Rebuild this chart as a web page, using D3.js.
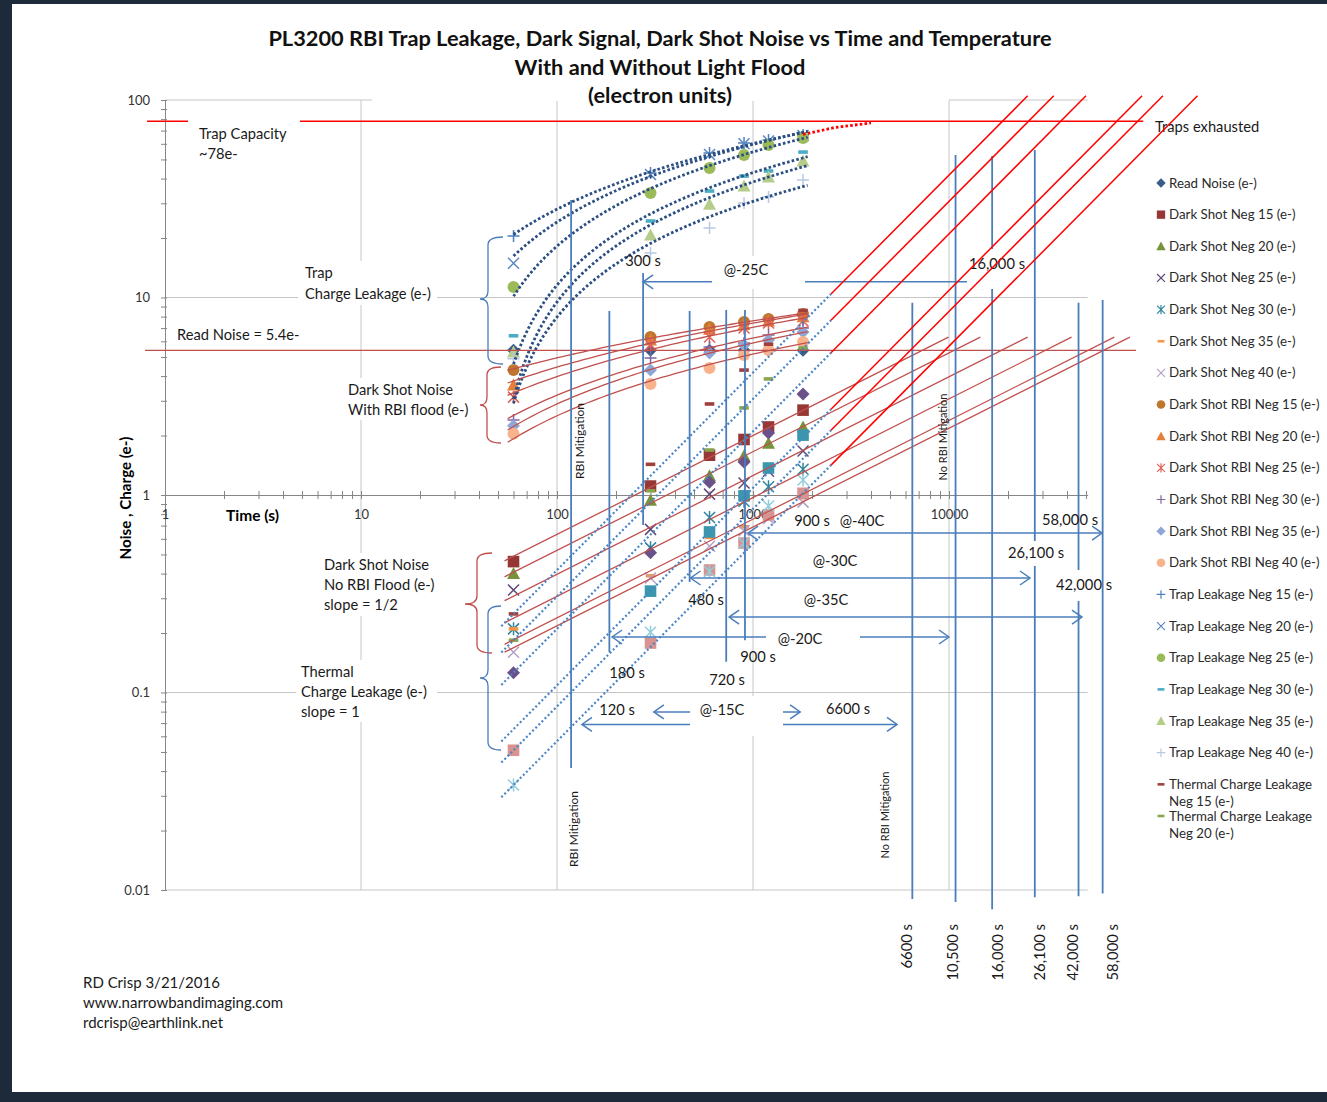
<!DOCTYPE html>
<html>
<head>
<meta charset="utf-8">
<script src="https://cdn.jsdelivr.net/npm/d3@7"></script>
<style>
  body { margin: 0; background: #1d2a3a; }
  svg text { font-family: Lato, "Open Sans", sans-serif; }
</style>
</head>
<body>
<svg id="chart"></svg>
<script>
// ---------- data ----------
const times = [60, 300, 600, 900, 1200, 1800];

const readNoise     = [5.4, 5.4, 5.4, 5.4, 5.4, 5.4];
const darkShotNeg15 = [0.46, 1.11, 1.59, 1.91, 2.21, 2.69];
const darkShotNeg20 = [0.40, 0.94, 1.25, 1.58, 1.83, 2.21];
const darkShotNeg25 = [0.33, 0.67, 1.01, 1.15, 1.32, 1.67];
const darkShotNeg30 = [0.21, 0.54, 0.77, 0.93, 1.10, 1.35];
const darkShotNeg35 = [0.21, 0.39, 0.61, 0.69, 0.80, 0.97];
const darkShotNeg40 = [0.16, 0.38, 0.55, 0.66, 0.76, 0.92];
const rbiNeg15 = [4.29, 6.31, 7.09, 7.51, 7.78, 8.25];
const rbiNeg20 = [3.61, 6.10, 6.90, 7.30, 7.60, 8.00];
const rbiNeg25 = [3.13, 5.74, 6.31, 7.01, 7.43, 7.60];
const rbiNeg30 = [2.40, 4.94, 5.61, 5.89, 6.46, 7.01];
const rbiNeg35 = [2.24, 4.29, 5.24, 5.74, 6.09, 6.69];
const rbiNeg40 = [2.04, 3.65, 4.40, 5.11, 5.42, 5.95];
const trapNeg15 = [20.5, 42.7, 53.9, 60.6, 62.7, 66.5];
const trapNeg20 = [14.9, 42.0, 53.0, 60.0, 62.0, 66.0];
const trapNeg25 = [11.3, 33.8, 45.3, 52.7, 59.2, 64.2];
const trapNeg30 = [6.4, 24.4, 34.6, 41.2, 43.7, 54.5];
const trapNeg35 = [5.3, 20.7, 29.7, 36.7, 40.7, 49.1];
const trapNeg40 = [4.9, 16.8, 22.5, 30.1, 32.3, 39.3];
const thermalNeg15 = [0.25, 1.43, 2.89, 4.29, 5.8, 8.6];
const thermalNeg20 = [0.184, 1.05, 1.69, 2.76, 3.87, 5.55];
const thermalNeg25 = [0.126, 0.51, 1.16, 1.47, 2.06, 3.25];
const thermalNeg30 = [null, 0.326, 0.65, 0.99, 1.37, 2.01];
const thermalNeg35 = [0.051, 0.178, 0.417, 0.571, 0.792, 1.02];
const thermalNeg40 = [0.034, 0.202, 0.41, 0.57, 0.88, 1.19];

// trap capacity approach (red dotted) and reference levels
const exhaustTimes  = [1800, 2600, 4000];
const exhaustValues = [67, 72.5, 76.5];
const trapCapacity = 78;
const readNoiseLevel = 5.4;

// annotation lines (times in s, extents in e-)
const mitigationTimes = [118, 185, 275, 475, 730, 910];
const mitigationTop   = [31.2, 8.55, 13.3, 8.55, 8.65, 8.65];
const mitigationBot   = [0.0415, 0.16, 0.705, 0.363, 0.143, 0.184];
const noRbiTimes = [6500, 10800, 16600, 27400, 45800, 60800];
const noRbiTop   = [9.4, 52.7, 52, 55.8, 9.4, 9.7];
const noRbiBot   = [0.009, 0.0087, 0.008, 0.0092, 0.0093, 0.0096];
const noRbiLabels = ["6600 s", "10,500 s", "16,000 s", "26,100 s", "42,000 s", "58,000 s"];

// temperature arrows: level (e-), from / to (s)
const arrowLevels = [12, 0.642, 0.38, 0.241, 0.191, 0.0797, 0.0689];
const arrowFrom   = [275, 943, 480, 755, 191, 312, 134];
const arrowTo     = [16600, 60400, 25900, 47700, 10000, 1740, 5430];

const yTickLabels = ["0.01", "0.1", "1", "10", "100"];
const xTickLabels = ["1", "10", "100", "1000", "10000"];

// ---------- frame ----------
const W = 1327, H = 1102;
const svg = d3.select("#chart").attr("width", W).attr("height", H);
svg.append("rect").attr("width", W).attr("height", H).attr("fill", "#1d2a3a");
svg.append("rect").attr("x", 12).attr("y", 4).attr("width", W - 12).attr("height", 1088).attr("fill", "#fff");

const X = d3.scaleLog().domain([1, 1e5]).range([165, 1145]);
const Y = d3.scaleLog().domain([0.01, 100]).range([890, 100]);
const X_END = 51000;
const XA = X.copy().domain([1, X_END]).range([X(1), X(X_END)]);

// gridlines
const grid = svg.append("g").attr("stroke", "#c6c6c6").attr("stroke-width", 1);
[10, 100, 1000, 10000].forEach(t => {
  grid.append("line").attr("x1", X(t)).attr("x2", X(t)).attr("y1", Y(100)).attr("y2", Y(0.01));
});
[100, 10, 0.1, 0.01].forEach(v => {
  grid.append("line").attr("x1", X(1)).attr("x2", XA(X_END)).attr("y1", Y(v)).attr("y2", Y(v));
});

// minor + major log ticks
const logTicks = (lo, hi) => {
  const out = [];
  for (let e = Math.log10(lo); e < Math.log10(hi); e++)
    for (let m = 1; m < 10; m++) { const v = m * Math.pow(10, e); if (v <= hi) out.push(v); }
  out.push(hi);
  return out.filter(v => v <= hi);
};

// y axis
const yAxis = svg.append("g").attr("transform", `translate(${X(1)},0)`)
  .call(d3.axisLeft(Y).tickValues(logTicks(0.01, 100)).tickSize(4).tickSizeOuter(0).tickPadding(11)
    .tickFormat(d => { const i = [0.01, 0.1, 1, 10, 100].findIndex(v => Math.abs(v - d) < d * 1e-6); return i >= 0 ? yTickLabels[i] : ""; }));
yAxis.select(".domain").attr("stroke", "#868686");
yAxis.selectAll(".tick line").attr("stroke", "#868686").attr("x2", -4).attr("x1", 2);
yAxis.selectAll("text").attr("font-size", 13).attr("fill", "#333");

// x axis (crosses at 1 e-)
const xTicks = logTicks(1, 10000).concat([20000, 30000, 40000, 50000]);
const xAxis = svg.append("g").attr("transform", `translate(0,${Y(1)})`)
  .call(d3.axisBottom(XA).tickValues(xTicks).tickSize(4).tickSizeOuter(0).tickPadding(11)
    .tickFormat(d => { const i = [1, 10, 100, 1000, 10000].findIndex(v => Math.abs(v - d) < 1e-6 * d); return i >= 0 ? xTickLabels[i] : ""; }));
xAxis.select(".domain").attr("stroke", "#868686");
xAxis.selectAll(".tick line").attr("stroke", "#868686").attr("y1", -4).attr("y2", 4);
xAxis.selectAll("text").attr("font-size", 13).attr("fill", "#333");

svg.append("text").attr("x", 226).attr("y", 521).attr("font-size", 15.5).attr("font-weight", "bold").text("Time (s)");
svg.append("text").attr("transform", "translate(131,498) rotate(-90)").attr("text-anchor", "middle")
  .attr("font-size", 15.2).attr("font-weight", "bold").text("Noise , Charge (e-)");

// ---------- series ----------
const series = [
  { name: "Read Noise (e-)", values: readNoise, shape: "diamond", color: "#385d8a" },
  { name: "Dark Shot Neg 15 (e-)", values: darkShotNeg15, shape: "square", color: "#953735" },
  { name: "Dark Shot Neg 20 (e-)", values: darkShotNeg20, shape: "triangle", color: "#77933c" },
  { name: "Dark Shot Neg 25 (e-)", values: darkShotNeg25, shape: "x", color: "#604a7b" },
  { name: "Dark Shot Neg 30 (e-)", values: darkShotNeg30, shape: "star", color: "#31859c" },
  { name: "Dark Shot Neg 35 (e-)", values: darkShotNeg35, shape: "dash", color: "#f79646" },
  { name: "Dark Shot Neg 40 (e-)", values: darkShotNeg40, shape: "x", color: "#b3a2c7" },
  { name: "Dark Shot RBI Neg 15 (e-)", values: rbiNeg15, shape: "circle", color: "#c0762f" },
  { name: "Dark Shot RBI Neg 20 (e-)", values: rbiNeg20, shape: "triangle", color: "#e4803a" },
  { name: "Dark Shot RBI Neg 25 (e-)", values: rbiNeg25, shape: "star", color: "#e0605a" },
  { name: "Dark Shot RBI Neg 30 (e-)", values: rbiNeg30, shape: "plus", color: "#8064a2" },
  { name: "Dark Shot RBI Neg 35 (e-)", values: rbiNeg35, shape: "diamond", color: "#8fa7d6" },
  { name: "Dark Shot RBI Neg 40 (e-)", values: rbiNeg40, shape: "circle", color: "#f8b38c" },
  { name: "Trap Leakage Neg 15 (e-)", values: trapNeg15, shape: "plus", color: "#4f81bd" },
  { name: "Trap Leakage Neg 20 (e-)", values: trapNeg20, shape: "x", color: "#5b87c0" },
  { name: "Trap Leakage Neg 25 (e-)", values: trapNeg25, shape: "circle", color: "#9bbb59" },
  { name: "Trap Leakage Neg 30 (e-)", values: trapNeg30, shape: "dash", color: "#4bacc6" },
  { name: "Trap Leakage Neg 35 (e-)", values: trapNeg35, shape: "triangle", color: "#b6cc8a" },
  { name: "Trap Leakage Neg 40 (e-)", values: trapNeg40, shape: "plus", color: "#b9c9e3" },
  { name: "Thermal Charge Leakage Neg 15 (e-)", values: thermalNeg15, shape: "dash", color: "#a0403d" },
  { name: "Thermal Charge Leakage Neg 20 (e-)", values: thermalNeg20, shape: "dash", color: "#8aa64d" },
  { name: "Thermal Charge Leakage Neg 25 (e-)", values: thermalNeg25, shape: "diamond", color: "#6a5189" },
  { name: "Thermal Charge Leakage Neg 30 (e-)", values: thermalNeg30, shape: "square", color: "#3a97ae" },
  { name: "Thermal Charge Leakage Neg 35 (e-)", values: thermalNeg35, shape: "square", color: "#d8928f" },
  { name: "Thermal Charge Leakage Neg 40 (e-)", values: thermalNeg40, shape: "star", color: "#92cddc" }
];

function shapePath(shape, s) {
  switch (shape) {
    case "diamond":  return { d: `M0,${-6.5*s}L${6.5*s},0L0,${6.5*s}L${-6.5*s},0Z`, fill: true };
    case "square":   return { d: `M${-5.8*s},${-5.8*s}h${11.6*s}v${11.6*s}h${-11.6*s}Z`, fill: true };
    case "triangle": return { d: `M0,${-6.5*s}L${6.5*s},${5.5*s}L${-6.5*s},${5.5*s}Z`, fill: true };
    case "circle":   return { d: d3.arc()({ innerRadius: 0, outerRadius: 6 * s, startAngle: 0, endAngle: 2 * Math.PI }), fill: true };
    case "dash":     return { d: `M${-4.8*s},${-1.8*s}h${9.6*s}v${3.6*s}h${-9.6*s}Z`, fill: true };
    case "x":        return { d: `M${-5.5*s},${-5.5*s}L${5.5*s},${5.5*s}M${-5.5*s},${5.5*s}L${5.5*s},${-5.5*s}`, fill: false };
    case "plus":     return { d: `M${-6*s},0H${6*s}M0,${-6*s}V${6*s}`, fill: false };
    case "star":     return { d: `M${-5.5*s},${-5.5*s}L${5.5*s},${5.5*s}M${-5.5*s},${5.5*s}L${5.5*s},${-5.5*s}M0,${-6.5*s}V${6.5*s}`, fill: false };
  }
}

function drawMarker(g, shape, color, s) {
  const p = shapePath(shape, s);
  g.append("path").attr("d", p.d)
    .attr("fill", p.fill ? color : "none")
    .attr("stroke", p.fill ? "none" : color)
    .attr("stroke-width", 1.5 * Math.max(s, 0.8));
}

const markerLayer = svg.append("g");
series.forEach(sr => {
  sr.values.forEach((v, i) => {
    if (v == null) return;
    const g = markerLayer.append("g").attr("transform", `translate(${X(times[i])},${Y(v)})`);
    drawMarker(g, sr.shape, sr.color, 1);
  });
});

// ---------- trendlines ----------
const T0 = 56, T0_TRAP = 60, T_END = 1900;
const pts = vals => times.map((t, i) => [t, vals[i]]).filter(d => d[1] != null);

function logFit(vals) {
  const p = pts(vals);
  const mx = d3.mean(p, d => Math.log(d[0])), my = d3.mean(p, d => d[1]);
  const b = d3.sum(p, d => (Math.log(d[0]) - mx) * (d[1] - my)) / d3.sum(p, d => (Math.log(d[0]) - mx) ** 2);
  return t => my + b * (Math.log(t) - mx);
}
function powerFitFixed(vals, k) {
  const p = pts(vals);
  const c = Math.exp(d3.mean(p, d => Math.log(d[1]) - k * Math.log(d[0])));
  return { c, f: t => c * Math.pow(t, k) };
}
// slope-k line through the first measured point
function powerFromFirst(vals, k) {
  const p = pts(vals)[0];
  const c = p[1] / Math.pow(p[0], k);
  return { c, f: t => c * Math.pow(t, k) };
}
const sampleT = (a, b, n = 60) => d3.range(n + 1).map(i => a * Math.pow(b / a, i / n));
const line = d3.line().x(d => X(d[0])).y(d => Y(d[1]));

const trend = svg.append("g").attr("fill", "none");

// trap leakage: dotted log curves
[trapNeg15, trapNeg20, trapNeg25, trapNeg30, trapNeg35, trapNeg40].forEach(vals => {
  const f = logFit(vals);
  const data = sampleT(T0_TRAP, T_END).map(t => [t, f(t)]).filter(d => d[1] > 0.5);
  trend.append("path").attr("d", line(data))
    .attr("stroke", "#2b4f82").attr("stroke-width", 2.8).attr("stroke-dasharray", "2.6 2.2");
});
trend.append("path").attr("d", line(exhaustTimes.map((t, i) => [t, exhaustValues[i]])))
  .attr("stroke", "#ff0000").attr("stroke-width", 2.8).attr("stroke-dasharray", "2.6 2.2");

// dark shot with RBI flood: log curves
[rbiNeg15, rbiNeg20, rbiNeg25, rbiNeg30, rbiNeg35, rbiNeg40].forEach(vals => {
  const f = logFit(vals);
  trend.append("path").attr("d", line(sampleT(T0, T_END).map(t => [t, f(t)])))
    .attr("stroke", "#c0504d").attr("stroke-width", 1.3);
});

// dark shot without RBI flood: slope 1/2 out to ~6.3 e-
const DARK_TOP = 6.3;
[darkShotNeg15, darkShotNeg20, darkShotNeg25, darkShotNeg30, darkShotNeg35, darkShotNeg40].forEach(vals => {
  const fit = powerFitFixed(vals, 0.5);
  const tEnd = Math.pow(DARK_TOP / fit.c, 2);
  trend.append("path").attr("d", line([[54, fit.f(54)], [tEnd, fit.f(tEnd)]]))
    .attr("stroke", "#c0504d").attr("stroke-width", 1.3);
});

// thermal leakage: slope 1, blue dotted then red extension to trap exhaustion
const T_SWITCH = 2500, THERMAL_TOP = 105;
const thermalFits = [thermalNeg15, thermalNeg20, thermalNeg25, thermalNeg30, thermalNeg35, thermalNeg40]
  .map(vals => powerFromFirst(vals, 1));
thermalFits.forEach(fit => {
  trend.append("path").attr("d", line([[52, fit.f(52)], [T_SWITCH, fit.f(T_SWITCH)]]))
    .attr("stroke", "#4a86c6").attr("stroke-width", 2.2).attr("stroke-dasharray", "2 2.4");
});

// ---------- reference levels ----------
svg.append("line").attr("x1", X(0.79)).attr("x2", X(90000)).attr("y1", Y(readNoiseLevel)).attr("y2", Y(readNoiseLevel))
  .attr("stroke", "#c0504d").attr("stroke-width", 1.4);
svg.append("line").attr("x1", X(0.81)).attr("x2", X(98000)).attr("y1", Y(trapCapacity)).attr("y2", Y(trapCapacity))
  .attr("stroke", "#ff0000").attr("stroke-width", 1.5);

// ---------- annotation lines ----------
const ann = svg.append("g").attr("stroke", "#4a7ebb").attr("fill", "none");
mitigationTimes.forEach((t, i) => {
  ann.append("line").attr("x1", X(t)).attr("x2", X(t)).attr("y1", Y(mitigationTop[i])).attr("y2", Y(mitigationBot[i])).attr("stroke-width", 1.8);
});
noRbiTimes.forEach((t, i) => {
  ann.append("line").attr("x1", X(t)).attr("x2", X(t)).attr("y1", Y(noRbiTop[i])).attr("y2", Y(noRbiBot[i])).attr("stroke-width", 1.8);
});
arrowLevels.forEach((v, i) => {
  const y = Y(v), x1 = X(arrowFrom[i]), x2 = X(arrowTo[i]);
  ann.append("line").attr("x1", x1).attr("x2", x2).attr("y1", y).attr("y2", y).attr("stroke-width", 1.5);
  ann.append("path").attr("d", `M${x1 + 10},${y - 7}L${x1},${y}L${x1 + 10},${y + 7}`).attr("stroke-width", 1.5);
  ann.append("path").attr("d", `M${x2 - 10},${y - 7}L${x2},${y}L${x2 - 10},${y + 7}`).attr("stroke-width", 1.5);
});

// braces
function brace(xr, xv, yTop, yBot, xTip, yTip, color) {
  const r = 8;
  svg.append("path").attr("fill", "none").attr("stroke", color).attr("stroke-width", 1.3)
    .attr("d", `M${xr},${yTop}Q${xv},${yTop} ${xv},${yTop + r}L${xv},${yTip - r}Q${xv},${yTip} ${xTip},${yTip}` +
               `Q${xv},${yTip} ${xv},${yTip + r}L${xv},${yBot - r}Q${xv},${yBot} ${xr},${yBot}`);
}
brace(503, 488, 237, 364, 480, 299, "#4a7ebb");
brace(501, 487, 367, 443, 480, 405, "#c0504d");
brace(492, 477, 553, 653, 465, 604, "#c0504d");
brace(501, 488, 606, 750, 480, 678, "#4a7ebb");

// ---------- text boxes ----------
function box(x0, y0, x1, y1) {
  svg.append("rect").attr("x", x0).attr("y", y0).attr("width", x1 - x0).attr("height", y1 - y0).attr("fill", "#fff");
}
function label(str, x, y, opts = {}) {
  return svg.append("text").attr("x", x).attr("y", y + 5).attr("font-size", opts.size || 14.7)
    .attr("text-anchor", opts.anchor || "start").attr("fill", "#1a1a1a").text(str);
}

// title
box(372, 18, 949, 101);
const title = ["PL3200 RBI Trap Leakage, Dark Signal, Dark Shot Noise vs Time and Temperature",
               "With and Without Light Flood", "(electron units)"];
title.forEach((s, i) => {
  svg.append("text").attr("x", 660).attr("y", 46 + i * 28.5).attr("text-anchor", "middle")
    .attr("font-size", 21.8).attr("font-weight", "bold").attr("fill", "#111").text(s);
});

box(188, 113, 300, 165);
label("Trap Capacity", 199, 134); label("~78e-", 199, 154);
label("Read Noise = 5.4e-", 177, 335);
box(298, 261, 437, 305);
label("Trap", 305, 273); label("Charge Leakage (e-)", 305, 294);
box(342, 378, 474, 420);
label("Dark Shot Noise", 348, 390); label("With RBI flood (e-)", 348, 410);
box(318, 553, 462, 616);
label("Dark Shot Noise", 324, 565); label("No RBI Flood (e-)", 324, 585); label("slope = 1/2", 324, 605);
box(296, 660, 437, 722);
label("Thermal", 301, 672); label("Charge Leakage (e-)", 301, 692); label("slope = 1", 301, 712);
label("Traps exhausted", 1155, 127);

label("300 s", 643, 261, { anchor: "middle" });
box(712, 256, 805, 289); label("@-25C", 746, 270, { anchor: "middle" });
box(967, 249, 1027, 289); label("16,000 s", 997, 264, { anchor: "middle" });
label("900 s", 812, 521, { anchor: "middle" }); label("@-40C", 862, 521, { anchor: "middle" });
label("58,000 s", 1070, 520, { anchor: "middle" });
label("@-30C", 835, 561, { anchor: "middle" });
box(1008, 541, 1064, 566); label("26,100 s", 1036, 553, { anchor: "middle" });
box(1056, 570, 1100, 601); label("42,000 s", 1084, 585, { anchor: "middle" });
label("480 s", 706, 600, { anchor: "middle" });
label("@-35C", 826, 600, { anchor: "middle" });
box(766, 625, 860, 651); label("@-20C", 800, 639, { anchor: "middle" });
label("900 s", 758, 657, { anchor: "middle" });
label("180 s", 627, 673, { anchor: "middle" });
label("720 s", 727, 680, { anchor: "middle" });
label("120 s", 617, 710, { anchor: "middle" });
box(690, 696, 783, 736); label("@-15C", 722, 710, { anchor: "middle" });
label("6600 s", 848, 709, { anchor: "middle" });

// thermal extensions drawn over the boxes
thermalFits.forEach(fit => {
  const tTop = THERMAL_TOP / fit.c;
  svg.append("line").attr("x1", X(T_SWITCH)).attr("y1", Y(fit.f(T_SWITCH))).attr("x2", X(tTop)).attr("y2", Y(THERMAL_TOP))
    .attr("stroke", "#ff0000").attr("stroke-width", 1.5);
});

// rotated labels
function vlabel(str, x, y, size, anchor) {
  svg.append("text").attr("transform", `translate(${x},${y}) rotate(-90)`).attr("text-anchor", anchor || "middle")
    .attr("font-size", size).attr("fill", "#1a1a1a").text(str);
}
vlabel("RBI Mitigation", 584, 441, 12);
vlabel("RBI Mitigation", 578, 829, 12);
vlabel("No RBI Mitigation", 947, 437, 11);
vlabel("No RBI Mitigation", 889, 815, 11);
const bottomX = [912, 958, 1003, 1045, 1078, 1118];
noRbiLabels.forEach((s, i) => vlabel(s, bottomX[i], 924, 14.8, "end"));

// credits
["RD Crisp 3/21/2016", "www.narrowbandimaging.com", "rdcrisp@earthlink.net"].forEach((s, i) => label(s, 83, 983 + i * 20, { size: 15 }));

// ---------- legend ----------
const legend = svg.append("g");
const LEG_X = 1169;
series.slice(0, 21).forEach((sr, i) => {
  const y = 183 + i * 31.65;
  const g = legend.append("g").attr("transform", `translate(1161,${y})`);
  drawMarker(g, sr.shape, sr.color, 0.72);
  const txt = legend.append("text").attr("x", LEG_X).attr("y", y + 4.5).attr("font-size", 13.3).attr("fill", "#2a2a2a");
  // long thermal names wrap onto a second line
  const words = sr.name.split(" ");
  const lines = sr.name.startsWith("Thermal")
    ? [words.slice(0, 3).join(" "), words.slice(3).join(" ")]
    : [sr.name];
  lines.forEach((s, j) => txt.append("tspan").attr("x", LEG_X).attr("dy", j ? 17 : 0).text(s));
});
</script>
</body>
</html>
